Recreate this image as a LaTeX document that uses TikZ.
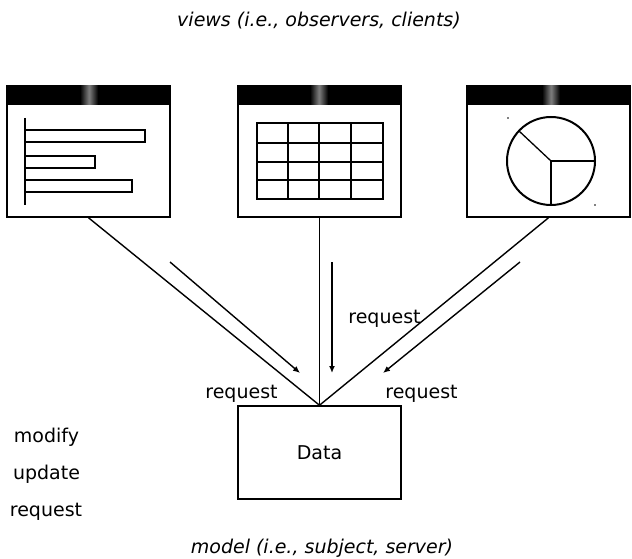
\documentclass[tikz,border=0pt]{standalone}
\usepackage{fontspec}
\setmainfont{DejaVu Sans}
\usetikzlibrary{arrows.meta}
\begin{document}
\begin{tikzpicture}[x=1pt,y=-1pt, font=\fontsize{19}{23}\selectfont,
  win/.style={draw, line width=1.5pt, minimum width=163pt, minimum height=131pt, inner sep=0pt},
  databox/.style={draw, line width=1.5pt, minimum width=163pt, minimum height=93pt, inner sep=0pt},
  conn/.style={line width=1.4pt},
  req/.style={line width=1.4pt, -{Latex[length=7pt,width=6pt]}},
  lbl/.style={anchor=base, inner sep=0pt},
  bar/.style={line width=2pt},
  thin1/.style={line width=1.3pt},
  titlebar/.style={fill=black},
  gloss/.style={left color=black, right color=black, middle color=black!50}]
\useasboundingbox (0,0) rectangle (632,559);

% windows
\node[win] (w1) at (88.5,151.5) {};
\node[win] (w2) at (319.5,151.5) {};
\node[win] (w3) at (548.5,151.5) {};

% title bars
\fill[titlebar] (7,86) rectangle (170,105);
\shade[gloss] (80,86) rectangle (98,105);
\fill[titlebar] (237,86) rectangle (402,105);
\shade[gloss] (310,86) rectangle (328,105);
\fill[titlebar] (467,86) rectangle (630,105);
\shade[gloss] (542,86) rectangle (560,105);

% bar chart
\draw[thin1] (25,118) -- (25,205);
\draw[bar] (25,130) rectangle (145,142);
\draw[bar] (25,156) rectangle (95,168);
\draw[bar] (25,180) rectangle (132,192);

% table
\draw[bar] (257,123) rectangle (383,199);
\foreach \xx in {288,319,351} \draw[thin1] (\xx,123) -- (\xx,199);
\foreach \yy in {143,162,180} \draw[thin1] (257,\yy) -- (383,\yy);

% pie chart
\draw[bar] (551,161) circle (44);
\draw[thin1] (551,161) -- (595,161);
\draw[thin1] (551,161) -- (551,205);
\draw[thin1] (551,161) -- (519,131);
\fill (508,118) circle (0.8);
\fill (595,205) circle (0.8);

% data
\node[databox] (data) at (319.5,452.5) {Data};

% connectors
\draw[conn] (w1.south) -- (data.north);
\draw[conn] (w2.south) -- (data.north);
\draw[conn] (w3.south) -- (data.north);

% request arrows
\coordinate (a1s) at (170,262); \coordinate (a1e) at (300,373);
\coordinate (a2s) at (332,262); \coordinate (a2e) at (332,373);
\coordinate (a3s) at (520,262); \coordinate (a3e) at (383,373);
\draw[req] (a1s) -- (a1e);
\draw[req] (a2s) -- (a2e);
\draw[req] (a3s) -- (a3e);

% labels
\node[lbl] (rq1) at (384.5,323) {request};
\node[lbl] (rq2) at (241.5,398) {request};
\node[lbl] (rq3) at (421.5,398) {request};
\node[lbl] (mod) at (46.5,442) {modify};
\node[lbl] (upd) at (46.5,479) {update};
\node[lbl] (rqs) at (46,516) {request};
\node[lbl] (top) at (319,27) {\itshape views (i.e., observers, clients)};
\node[lbl] (bot) at (322,553) {\itshape model (i.e., subject, server)};
\end{tikzpicture}
\end{document}
